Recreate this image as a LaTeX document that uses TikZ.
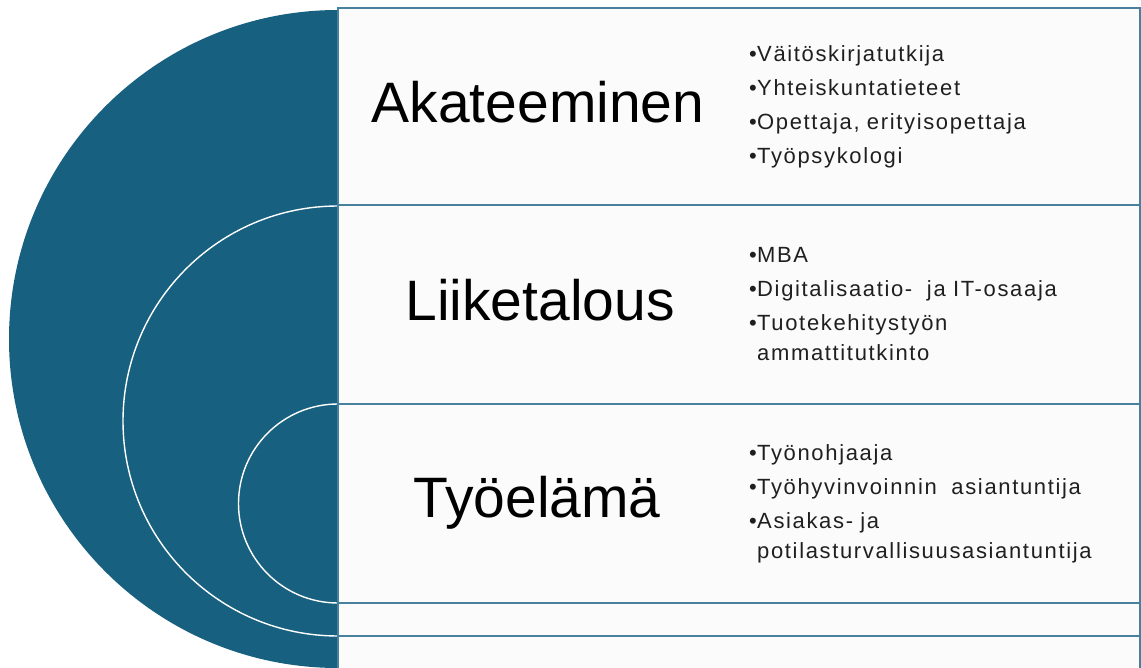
\documentclass[tikz,border=0pt]{standalone}
\usepackage{fontspec}
\setmainfont{Liberation Sans}
\newfontfamily\listfont[LetterSpace=7.5]{Liberation Sans}
\usepackage{xcolor}
\usepackage{tikz}

\definecolor{discblue}{RGB}{23,96,127}
\definecolor{rowline}{RGB}{72,128,158}
\definecolor{rowfill}{RGB}{251,251,251}
\newcommand{\bul}{\makebox[8pt][l]{•}}

\begin{document}
\begin{tikzpicture}[
    x=1pt, y=-1pt,
    rowbox/.style={rectangle, draw=rowline, line width=1.5pt, fill=rowfill, minimum width=802pt, anchor=north west, inner sep=0pt, outer sep=0pt},
    titletext/.style={font=\fontsize{57}{62}\selectfont, text=black, anchor=base, inner sep=0pt},
    listtext/.style={font=\listfont\fontsize{22}{30}\selectfont, text=black!88, text width=390pt, align=left, anchor=base west, inner sep=0pt},
    ring/.style={draw=white, line width=1.4pt}
]

\path[use as bounding box] (0,0) rectangle (1141,668);

% Half disc with rings
\begin{scope}
\clip (0,0) rectangle (338,668);
\fill[discblue] (338,339) circle[radius=329];
\draw[ring] (338,421) circle[radius=215];
\draw[ring] (338,503.5) circle[radius=99.5];
\end{scope}

% Rows
\node[rowbox, minimum height=197pt] (row1) at (338,8) {};
\node[rowbox, minimum height=199pt] (row2) at (row1.south west) {};
\node[rowbox, minimum height=199pt] (row3) at (row2.south west) {};
\node[rowbox, minimum height=33pt] (row4) at (row3.south west) {};
\node[rowbox, minimum height=60pt] (row5) at (row4.south west) {};

% Titles
\node[titletext] (title1) at (538,123) {Akateeminen};
\node[titletext] (title2) at (540,321) {Liiketalous};
\node[titletext] (title3) at (537,517) {Työelämä};

% Lists
\node[listtext] (list1) at (749,62) {\bul Väitöskirjatutkija\\[4pt]
    \bul Yhteiskuntatieteet\\[4pt]
    \bul Opettaja, erityisopettaja\\[4pt]
    \bul Työpsykologi};

\node[listtext] (list2) at (749,263) {\bul MBA\\[4pt]
    \bul Digitalisaatio-\ \ ja IT-osaaja\\[4pt]
    \bul Tuotekehitystyön\\
    \hspace*{8pt}ammattitutkinto};

\node[listtext] (list3) at (749,460) {\bul Työnohjaaja\\[4pt]
    \bul Työhyvinvoinnin\ \ asiantuntija\\[4pt]
    \bul Asiakas- ja\\
    \hspace*{8pt}potilasturvallisuusasiantuntija};

\end{tikzpicture}
\end{document}
